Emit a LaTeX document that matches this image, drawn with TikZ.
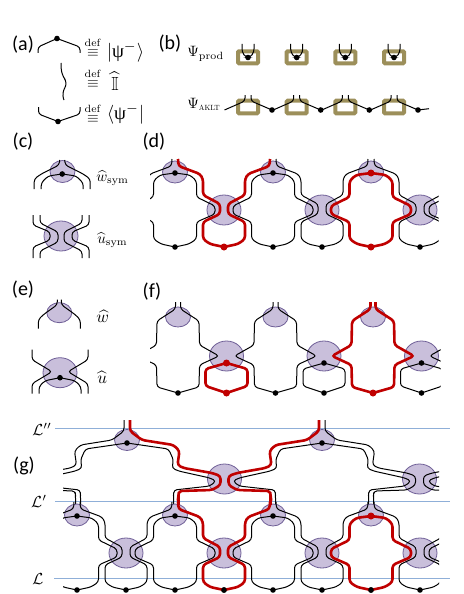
\documentclass[tikz,border=0pt]{standalone}
\usepackage[no-math]{fontspec}
\usepackage{amsmath}
\usepackage{amssymb}
\usepackage{tikz}
\setmainfont{Carlito}
\newfontfamily\grk{Liberation Serif}
\definecolor{tensfill}{HTML}{C9BFDB}
\definecolor{tensedge}{HTML}{6E5E96}
\definecolor{wirered}{HTML}{C00000}
\definecolor{boxolive}{HTML}{9C8F5A}
\definecolor{levelblue}{HTML}{8FAFD8}
\tikzset{
  wire/.style={black,line width=1pt,rounded corners=3pt},
  redwire/.style={wirered,line width=2.6pt,rounded corners=3pt},
  tens/.style={draw=tensedge,fill=tensfill,line width=0.8pt},
  tag/.style={scale=2},
  lab/.style={scale=1.5},
  biglab/.style={scale=1.9},
  level/.style={levelblue,line width=0.9pt}
}
% strands hanging off a w tensor, mirrored by #3
\newcommand{\strandA}[4]{\draw[#4,shift={(#1,#2)},xscale=#3] (3,-14) -- (3.5,-7) -- (25,1) -- (28,6) -- (28,22) -- (45,31) -- (45,41) -- (28,49) -- (28,66) -- (35,71) -- (49,74);}
\newcommand{\strandB}[4]{\draw[#4,shift={(#1,#2)},xscale=#3] (0,0) -- (15,2) -- (21.5,8) -- (21.5,24) -- (40,33) -- (40,41) -- (21.5,49) -- (21.5,66) -- (14,71) -- (0,74);}
\newcommand{\strandC}[4]{\draw[#4,shift={(#1,#2)},xscale=#3] (3,-23) -- (3,-12) -- (15,-3) -- (46.5,2) -- (52.5,8) -- (50.5,22) -- (56.5,25) -- (85,30) -- (93.5,33) -- (93.5,42) -- (85,47) -- (52,48) -- (51.5,52) -- (51.5,62);}
\newcommand{\strandD}[4]{\draw[#4,shift={(#1,#2)},xscale=#3] (0,0) -- (41.5,6) -- (46.5,17) -- (45,25) -- (51.5,28) -- (83,35) -- (89,38) -- (83,43) -- (47,47) -- (46.5,52) -- (46.5,62);}
\newcommand{\strandF}[4]{\draw[#4,shift={(#1,#2)},xscale=#3] (2.5,-15) -- (2.5,-8) -- (21,4) -- (21.5,28) -- (41,39) -- (21.5,48) -- (21,70) -- (0,76);}
\newcommand{\loopF}[3]{\draw[#3,shift={(#1,#2)}] (0,7) -- (21,13) -- (21,30) -- (0,37) -- (-21,30) -- (-21,13) -- cycle;}
\newcommand{\symrow}[1]{
  \foreach \x in {77,175,273,371,469} {
    \fill[tens] (\x,#1-1) ellipse (12.5pt and 11pt);
    \fill[tens] (\x+49,#1+37) ellipse (17pt and 15pt);
  }
  \foreach \x in {77,175,273,371,469} \foreach \s in {-1,1} {
    \strandA{\x}{#1}{\s}{wire}
    \strandB{\x}{#1}{\s}{wire}
  }
  \foreach \x in {77,175,273,371,469} {
    \fill (\x,#1) circle (2.8pt);
    \fill (\x,#1+74) circle (2.8pt);
    \fill (\x+49,#1+74) circle (2.8pt);
  }
}
\begin{document}
\begin{tikzpicture}[x=1pt,y=-1pt]
  \useasboundingbox (0,0) rectangle (463,594);
  % (a)
  \node[tag] (taga) at (23,45) {(a)};
  \draw[wire] (38,53) -- (38,47) -- (57,38.5) -- (80,47) -- (80,53);
  \draw[wire,rounded corners=6pt] (61,63) -- (61.5,75) -- (68,83) -- (61.5,93) -- (64,100);
  \draw[wire] (38.5,107) -- (38.5,114) -- (58,121.5) -- (80,114) -- (80,107);
  \fill (57,38.5) circle (2.8pt);
  \fill (58,121.5) circle (2.8pt);
  \node[lab] (defa) at (93,47) {$\overset{\mathrm{def}}{\equiv}$};
  \node[lab] (defb) at (93,78) {$\overset{\mathrm{def}}{\equiv}$};
  \node[lab] (defc) at (93,113) {$\overset{\mathrm{def}}{\equiv}$};
  \node[biglab] (keta) at (125.5,52) {$|\text{\grk ψ}^-\rangle$};
  \node[biglab] (iden) at (115,81) {$\widehat{\mathbb{I}}$};
  \node[biglab] (brac) at (125.5,114) {$\langle\text{\grk ψ}^-|$};
  % (b)
  \node[tag] (tagb) at (170,44) {(b)};
  \node[lab,right,inner sep=0pt] (prod) at (187,54) {$\Psi_{\mathrm{prod}}$};
  \node[lab,right,inner sep=0pt] (aklt) at (187,104) {$\Psi_{\scalebox{.5}{$\mathrm{AKLT}$}}$};
  \foreach \x in {248,296.7,345.3,394} {
    \draw[boxolive,line width=4pt,rounded corners=1pt] (\x-10,51.3) rectangle (\x+10,63.3);
    \draw[wire] (\x-6,44) -- (\x-6,52) -- (\x-2,57.5) -- (\x+2,57.5) -- (\x+6,52) -- (\x+6,44);
    \fill (\x,57.5) circle (2.8pt);
    \draw[boxolive,line width=4pt,rounded corners=1pt] (\x-10,100.7) rectangle (\x+10,113.3);
    \draw[wire] (\x-3,95) -- (\x-3,101) -- (\x-23.5,110);
    \draw[wire] (\x+3,95) -- (\x+3,101) -- (\x+24,110);
    \fill (\x+24,110) circle (2.8pt);
  }
  \draw[wire] (418,110) -- (429,108.7);
  % (c)
  \node[tag] (tagc) at (23,142) {(c)};
  \fill[tens] (62.5,171.5) ellipse (12.5pt and 11pt);
  \fill[tens] (61,236) ellipse (17pt and 15pt);
  \foreach \s in {-1,1} {
    \draw[wire,shift={(62.2,174)},xscale=\s] (2.5,-14) -- (3,-9) -- (21,0) -- (28,5) -- (28,15);
    \draw[wire,shift={(62.2,174)},xscale=\s] (0,0) -- (14,2) -- (21,9) -- (21,15);
    \draw[wire,shift={(61,236)},xscale=\s] (28,-21) -- (28,-11) -- (11,-4) -- (11,4) -- (28,11) -- (28,22);
    \draw[wire,shift={(61,236)},xscale=\s] (21,-21) -- (21,-13) -- (3,-4) -- (3,6) -- (21,15) -- (21,22);
  }
  \fill (62.2,174) circle (2.8pt);
  \node[lab,right,inner sep=0pt] (wsym) at (96,178) {$\widehat{w}_{\mathrm{sym}}$};
  \node[lab,right,inner sep=0pt] (usym) at (97,240) {$\widehat{u}_{\mathrm{sym}}$};
  % (d)
  \node[tag] (tagd) at (154,142) {(d)};
  \begin{scope}
    \clip (150,150) rectangle (438.5,262);
    \symrow{173}
    \strandA{175}{173}{1}{redwire}
    \strandA{273}{173}{-1}{redwire}
    \strandB{371}{173}{-1}{redwire}
    \strandB{371}{173}{1}{redwire}
    \foreach \x in {224,371} \fill[wirered] (\x,247) circle (3.5pt);
    \fill[wirered] (371,173) circle (3.5pt);
  \end{scope}
  % (e)
  \node[tag] (tage) at (23,290) {(e)};
  \fill[tens] (59.3,312.7) ellipse (12.5pt and 10pt);
  \fill[tens] (60,372.7) ellipse (17pt and 15pt);
  \foreach \s in {-1,1} {
    \draw[wire,shift={(59.3,312.7)},xscale=\s] (2,-13) -- (2,-8) -- (16,2) -- (21,7) -- (21,16);
    \draw[wire,shift={(60,372.7)},xscale=\s] (28,-23) -- (28,-13) -- (8,-1) -- (28,11) -- (28,21);
    \draw[wire,shift={(60,372.7)},xscale=\s] (0,5) -- (15,8) -- (21,14) -- (21,21);
  }
  \fill (60,377.7) circle (2.8pt);
  \node[scale=1.7,right,inner sep=0pt] (what) at (96,316) {$\widehat{w}$};
  \node[scale=1.7,right,inner sep=0pt] (uhat) at (97,377) {$\widehat{u}$};
  % (f)
  \node[tag] (tagf) at (152,292) {(f)};
  \begin{scope}
    \clip (150,290) rectangle (440.5,400);
    \foreach \x in {178,275.5,373,470.5} {
      \fill[tens] (\x,317) ellipse (12.5pt and 10pt);
      \fill[tens] (\x+48.5,356) ellipse (17pt and 15pt);
    }
    \foreach \x in {178,275.5,373,470.5} {
      \strandF{\x}{317}{1}{wire}
      \strandF{\x}{317}{-1}{wire}
      \loopF{\x+48.5}{356}{wire}
      \fill (\x,393) circle (2.8pt);
      \fill (\x+48.5,393) circle (2.8pt);
      \fill (\x+48.5,363) circle (2.8pt);
    }
    \loopF{226.5}{356}{redwire}
    \strandF{373}{317}{1}{redwire}
    \strandF{373}{317}{-1}{redwire}
    \foreach \x/\y in {226.5/363,226.5/393,373/393} \fill[wirered] (\x,\y) circle (3.5pt);
  \end{scope}
  % (g)
  \node[tag] (tagg) at (24,466) {(g)};
  \draw[level] (55,428.7) -- (450,428.7);
  \draw[level] (55,501.3) -- (450,501.3);
  \draw[level,line width=1.2pt] (54,578.7) -- (450,578.7);
  \node[scale=1.6] (lppp) at (42,429) {$\mathcal{L}''$};
  \node[scale=1.6] (lpp) at (39,501) {$\mathcal{L}'$};
  \node[scale=1.6] (lp) at (38,579) {$\mathcal{L}$};
  \begin{scope}
    \clip (63,415) rectangle (439,594);
    \foreach \x in {127,322} {
      \fill[tens] (\x,440) ellipse (12.5pt and 10.5pt);
      \fill[tens] (\x+97.5,479) ellipse (17pt and 15pt);
    }
    \foreach \x in {127,322,517} \foreach \s in {-1,1} {
      \strandC{\x}{443}{\s}{wire}
      \strandD{\x}{443}{\s}{wire}
    }
    \foreach \x in {127,322} \fill (\x,443) circle (2.8pt);
    \symrow{516}
    \strandC{127}{443}{1}{redwire}
    \strandC{322}{443}{-1}{redwire}
    \strandA{175}{516}{1}{redwire}
    \strandA{273}{516}{-1}{redwire}
    \strandB{371}{516}{-1}{redwire}
    \strandB{371}{516}{1}{redwire}
    \fill[wirered] (371,516) circle (3.5pt);
    \foreach \x in {224,371} \fill (\x,590) circle (2.8pt);
  \end{scope}
\end{tikzpicture}
\end{document}
